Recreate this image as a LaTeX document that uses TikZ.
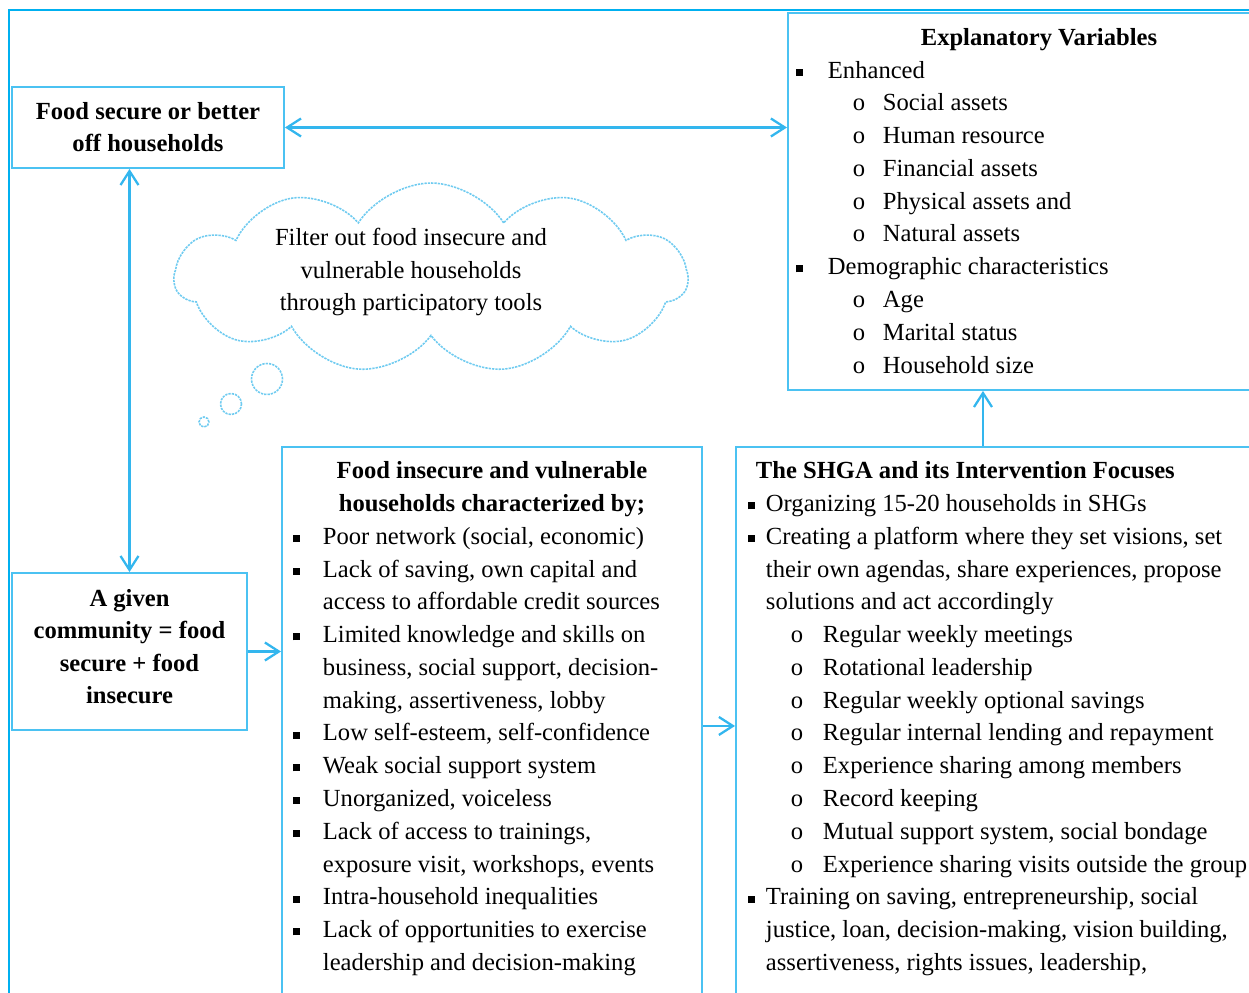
\documentclass[tikz,border=0pt]{standalone}
\usepackage{fontspec}
\setmainfont{Liberation Serif}
\usepackage{tikz}
\usetikzlibrary{arrows.meta,shapes.symbols}
\definecolor{frameblue}{HTML}{00B0F0}
\definecolor{boxblue}{HTML}{4BC2F2}
\definecolor{arrowblue}{HTML}{33B6EE}
\definecolor{puffblue}{HTML}{6FCBF0}
\newdimen\px \px=0.02cm
\newcommand{\sqb}{\rule[1.3pt]{4pt}{4pt}}
\newcommand{\bitem}[3]{\hspace*{#1\px}\makebox[#2\px][l]{\sqb}\mbox{#3}}
\newcommand{\oitem}[3]{\hspace*{#1\px}\makebox[#2\px][l]{o}\mbox{#3}}
\newcommand{\contline}[2]{\hspace*{#1\px}\mbox{#2}}
\newcommand{\boxtext}[4]{\parbox[t][#2\px][t]{#1\px}{\vspace*{#3}#4}}
\tikzset{
  bodytext/.style={font=\fontsize{14}{18.65}\selectfont},
  panel/.style={draw=boxblue, line width=1.1pt, inner sep=0pt, anchor=north west, bodytext},
  titlebox/.style={draw=boxblue, line width=1.1pt, align=center, font=\fontsize{14}{18.3}\selectfont\bfseries},
  puffline/.style={draw=puffblue, dash pattern=on 1.3pt off 0.6pt, line width=0.9pt},
  thought/.style={cloud, cloud puffs=11, cloud puff arc=115, cloud ignores aspect, inner sep=0pt, puffline, bodytext},
  flow/.style={draw=arrowblue, line width=1.3pt, -{Straight Barb[length=0.28cm,width=0.36cm]}},
  twoway/.style={flow, {Straight Barb[length=0.28cm,width=0.36cm]}-{Straight Barb[length=0.28cm,width=0.36cm]}}
}

\begin{document}
\begin{tikzpicture}[x=0.02cm, y=-0.02cm]
\useasboundingbox (0,0) rectangle (1249,993);
\clip (0,0) rectangle (1249,993);
\draw[frameblue, line width=1.5pt] (9,10) rectangle (1300,1010);

\node[titlebox, minimum width=5.44cm, minimum height=1.62cm] (secure) at (148,127.5)
  {Food secure or better\\off households};
\node[titlebox, minimum width=4.7cm, minimum height=3.14cm] (community) at (129.5,651.5)
  {A given\\community = food\\secure + food\\insecure\rule[-10\px]{0pt}{0pt}};

\node[panel] (explvars) at (787,12) {\boxtext{502}{377}{5.4pt}{%
\makebox[502\px]{\strut\textbf{Explanatory Variables}}\\
\bitem{8}{32}{Enhanced}\\
\oitem{65}{30}{Social assets}\\
\oitem{65}{30}{Human resource}\\
\oitem{65}{30}{Financial assets}\\
\oitem{65}{30}{Physical assets and}\\
\oitem{65}{30}{Natural assets}\\
\bitem{8}{32}{Demographic characteristics}\\
\oitem{65}{30}{Age}\\
\oitem{65}{30}{Marital status}\\
\oitem{65}{30}{Household size}}};

\node[panel] (insecure) at (281,446) {\boxtext{420}{558}{5.1pt}{%
\makebox[420\px]{\strut\textbf{Food insecure and vulnerable}}\\
\makebox[420\px]{\textbf{households characterized by;}}\\
\bitem{11}{30}{Poor network (social, economic)}\\
\bitem{11}{30}{Lack of saving, own capital and}\\
\contline{41}{access to affordable credit sources}\\
\bitem{11}{30}{Limited knowledge and skills on}\\
\contline{41}{business, social support, decision-}\\
\contline{41}{making, assertiveness, lobby}\\
\bitem{11}{30}{Low self-esteem, self-confidence}\\
\bitem{11}{30}{Weak social support system}\\
\bitem{11}{30}{Unorganized, voiceless}\\
\bitem{11}{30}{Lack of access to trainings,}\\
\contline{41}{exposure visit, workshops, events}\\
\bitem{11}{30}{Intra-household inequalities}\\
\bitem{11}{30}{Lack of opportunities to exercise}\\
\contline{41}{leadership and decision-making}}};

\node[panel] (shga) at (735,446) {\boxtext{560}{558}{5.1pt}{%
\contline{20}{\strut\textbf{The SHGA and its Intervention Focuses}}\\
\bitem{12}{18}{Organizing 15-20 households in SHGs}\\
\bitem{12}{18}{Creating a platform where they set visions, set}\\
\contline{30}{their own agendas, share experiences, propose}\\
\contline{30}{solutions and act accordingly}\\
\oitem{55}{32}{Regular weekly meetings}\\
\oitem{55}{32}{Rotational leadership}\\
\oitem{55}{32}{Regular weekly optional savings}\\
\oitem{55}{32}{Regular internal lending and repayment}\\
\oitem{55}{32}{Experience sharing among members}\\
\oitem{55}{32}{Record keeping}\\
\oitem{55}{32}{Mutual support system, social bondage}\\
\oitem{55}{32}{Experience sharing visits outside the group}\\
\bitem{12}{18}{Training on saving, entrepreneurship, social}\\
\contline{30}{justice, loan, decision-making, vision building,}\\
\contline{30}{assertiveness, rights issues, leadership,}}};

% thought bubble
\node[thought, minimum width=10.26cm, minimum height=3.8cm] (filter) at (431,278)
  {\raisebox{0pt}[0.5cm][0.5cm]{\begin{tabular}{@{}c@{\hspace{40\px}}}Filter out food insecure and\\
   vulnerable households\\through participatory tools\end{tabular}}};
\draw[puffline] (267,379) circle [radius=0.31cm];
\draw[puffline] (231,404) circle [radius=0.21cm];
\draw[puffline] (204,422) circle [radius=0.1cm];

% connectors
\draw[twoway] (secure.east) -- (secure.east -| explvars.west);
\draw[twoway] (community.north |- secure.south) -- (community.north);
\draw[flow] (community.east) -- (community.east -| insecure.west);
\draw[flow] (insecure.east) -- (shga.west);
\coordinate (shgatop) at (983,446);
\draw[flow] (shgatop) -- (shgatop |- explvars.south);
\end{tikzpicture}
\end{document}
